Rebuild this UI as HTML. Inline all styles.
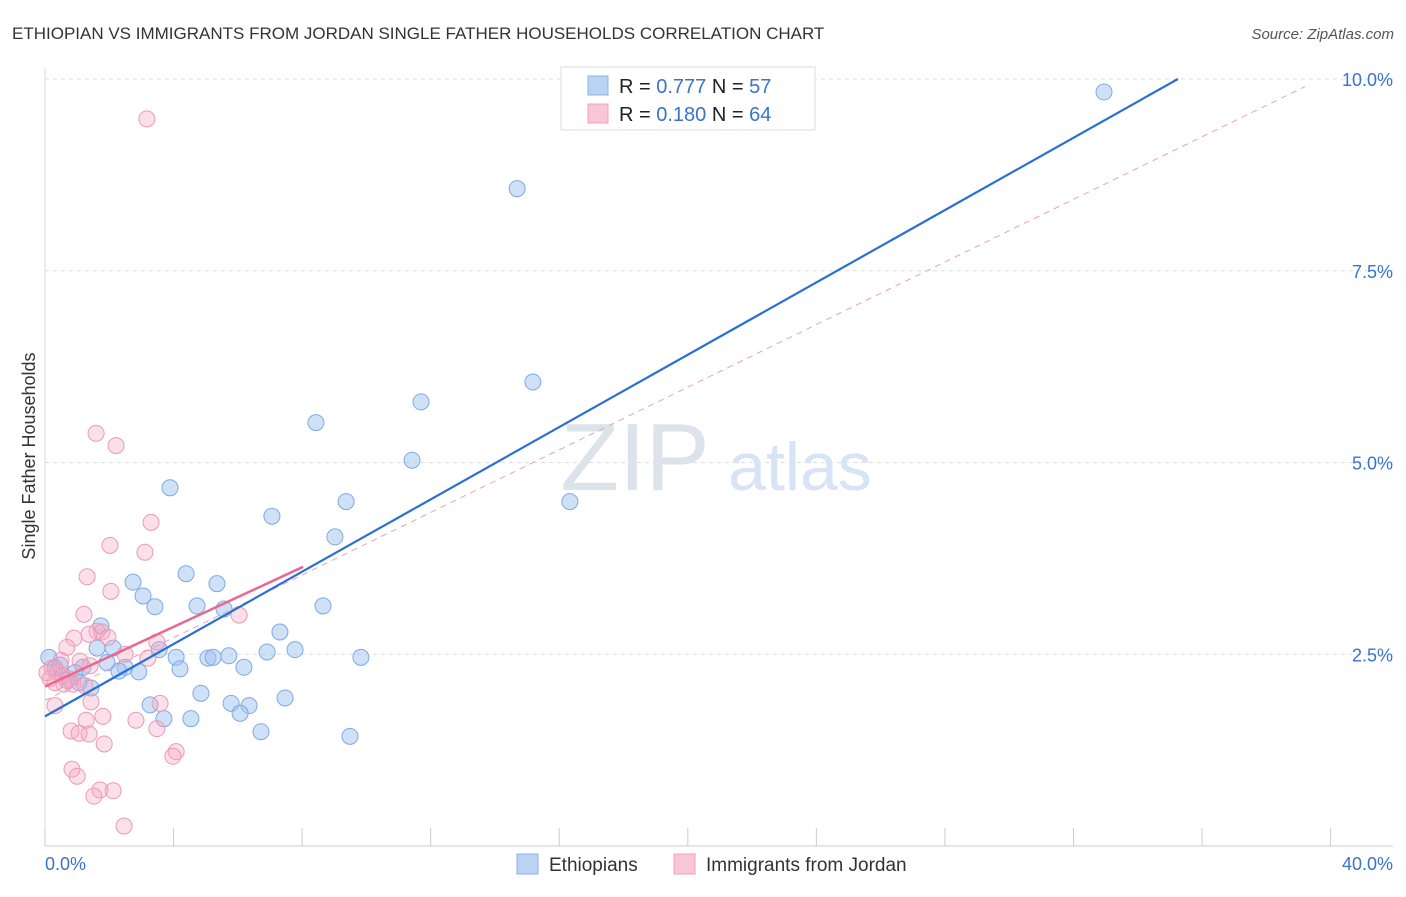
<!DOCTYPE html>
<html><head><meta charset="utf-8"><style>
body{margin:0;background:#fff;font-family:"Liberation Sans",sans-serif}
svg text{font-family:"Liberation Sans",sans-serif}
</style></head><body>
<svg id="chart" width="1406" height="892">
<text x="12" y="39" font-size="17" fill="#333">ETHIOPIAN VS IMMIGRANTS FROM JORDAN SINGLE FATHER HOUSEHOLDS CORRELATION CHART</text>
<text x="1394" y="39" font-size="15" fill="#555" text-anchor="end" font-style="italic">Source: ZipAtlas.com</text>
<text x="35" y="456" font-size="18" fill="#333" text-anchor="middle" transform="rotate(-90 35 456)">Single Father Households</text>
<g id="grid"></g>
<text x="635" y="490" font-size="96" fill="#dde3ea" text-anchor="middle" font-family="Liberation Serif">ZIP</text>
<text x="800" y="490" font-size="68" fill="#d6e4f5" text-anchor="middle">atlas</text>
<g id="marks"></g>
<g>
<rect x="561" y="67" width="254" height="63" fill="#fff" stroke="#ddd"/>
<rect x="588" y="76" width="20" height="19" fill="#b8d3f4" stroke="#8ab4e8"/>
<rect x="588" y="104" width="20" height="19" fill="#f9c6d6" stroke="#f0a0bc"/>
<text x="619" y="93" font-size="20" fill="#222">R = <tspan fill="#3a72d0">0.777</tspan>   N = <tspan fill="#3a72d0">57</tspan></text>
<text x="619" y="121" font-size="20" fill="#222">R = <tspan fill="#3a72d0">0.180</tspan>   N = <tspan fill="#3a72d0">64</tspan></text>
</g>
<g>
<rect x="517" y="854" width="21" height="20" fill="#b8d3f4" stroke="#8ab4e8"/>
<text x="549" y="871" font-size="19" fill="#333">Ethiopians</text>
<rect x="674" y="854" width="21" height="20" fill="#f9c6d6" stroke="#f0a0bc"/>
<text x="706" y="871" font-size="19" fill="#333">Immigrants from Jordan</text>
</g>
</svg>
<script>
const yTicks=[2.5,5.0,7.5,10.0];
const yTickLabels=["2.5%","5.0%","7.5%","10.0%"];
const xTickVals=[0,4,8,12,16,20,24,28,32,36,40];
const xEndLabels=["0.0%","40.0%"];
const ethX=[32.95,14.69,15.18,11.70,8.43,11.42,3.89,9.37,16.33,7.06,9.02,4.39,2.74,5.35,3.05,3.42,4.73,8.65,5.57,1.74,7.31,1.62,2.12,3.55,6.91,7.78,4.08,5.07,5.23,5.72,9.83,1.93,2.49,2.30,2.92,4.20,6.19,1.18,0.12,0.47,0.93,1.06,1.43,4.85,7.47,3.27,5.79,6.35,6.07,4.54,3.70,6.72,9.49,0.31,0.68];
const ethY=[9.83,8.57,6.05,5.79,5.52,5.03,4.67,4.49,4.49,4.30,4.03,3.55,3.44,3.42,3.26,3.12,3.13,3.13,3.09,2.87,2.79,2.58,2.58,2.56,2.53,2.56,2.46,2.45,2.46,2.48,2.46,2.39,2.33,2.28,2.27,2.31,2.33,2.33,2.46,2.36,2.26,2.13,2.06,1.99,1.93,1.84,1.86,1.83,1.73,1.66,1.66,1.49,1.43,2.32,2.16];
const jorX=[3.17,1.59,2.21,3.30,2.02,3.11,1.31,2.05,1.21,6.04,1.62,1.77,1.37,1.96,0.90,3.48,0.68,2.49,3.20,0.50,1.09,1.40,0.22,0.37,0.56,0.75,0.16,0.87,1.24,0.59,0.31,1.43,3.58,1.80,1.28,2.83,3.48,0.81,1.06,1.37,1.84,4.08,3.98,0.84,1.00,1.71,2.12,1.52,2.46,0.31,0.06];
const jorY=[9.48,5.38,5.22,4.22,3.92,3.83,3.51,3.32,3.02,3.01,2.80,2.79,2.76,2.72,2.71,2.66,2.59,2.50,2.45,2.42,2.41,2.35,2.32,2.27,2.22,2.18,2.18,2.11,2.09,2.11,1.83,1.88,1.86,1.69,1.64,1.64,1.53,1.50,1.47,1.46,1.33,1.23,1.17,1.00,0.91,0.73,0.72,0.65,0.26,2.13,2.26];
const ethLine=[[0,1.69],[35.25,10.0]];
const jorLine=[[0,2.08],[8.03,3.64]];
const jorDash=[[0,1.90],[39.2,9.9]];
const sx=v=>45+v*32.14, sy=v=>846-v*76.7;
const NS="http://www.w3.org/2000/svg";
const grid=document.getElementById('grid'), marks=document.getElementById('marks'), svg=document.getElementById('chart');
function mk(tag,attrs,parent){const e=document.createElementNS(NS,tag);for(const k in attrs)e.setAttribute(k,attrs[k]);parent.appendChild(e);return e;}
yTicks.forEach((t,i)=>{
 const l=mk('line',{x1:45,x2:1393,y1:sy(t),y2:sy(t),stroke:'#ddd','stroke-dasharray':'4,4'},grid);
 
 
 const tx=mk('text',{x:1393,y:sy(t)+7,'font-size':18,fill:'#3a72d0','text-anchor':'end'},grid);
 tx.textContent=yTickLabels[i];
 
 
});
const ax=mk('line',{x1:45,x2:1393,y1:846,y2:846,stroke:'#ccc'},grid);


const ay=mk('line',{x1:45,x2:45,y1:68,y2:846,stroke:'#ddd'},grid);


xTickVals.forEach(t=>{
 const l=mk('line',{x1:sx(t),x2:sx(t),y1:828,y2:846,stroke:'#ccc'},grid);
 
 
});
[[0,'start',45],[1,'end',1393]].forEach(([i,a,x])=>{
 const tx=mk('text',{x:x,y:870,'font-size':18,fill:'#3a72d0','text-anchor':a},grid);
 tx.textContent=xEndLabels[i];
 
 
});
function dots(X,Y,fill,stroke,name){X.forEach((x,i)=>{
 const c=mk('circle',{cx:sx(x),cy:sy(Y[i]),r:8,fill:fill,stroke:stroke,'stroke-width':1},marks);
 
 
});}
dots(ethX,ethY,'rgba(160,195,240,0.5)','#7eaae6','ethiopian-point');
dots(jorX,jorY,'rgba(245,165,192,0.35)','#ee98b6','jordan-point');
function line(p,st,w,dash,name){
 const l=mk('line',{x1:sx(p[0][0]),y1:sy(p[0][1]),x2:sx(p[1][0]),y2:sy(p[1][1]),stroke:st,'stroke-width':w},marks);
 if(dash)l.setAttribute('stroke-dasharray',dash);
 
 
}
line(jorDash,'#eaa0b8',1,'6,5','jordan-trend-extension');
line(ethLine,'#2a6fd4',2.2,null,'ethiopian-trend-line');
line(jorLine,'#e8688f',2.5,null,'jordan-trend-line');
</script>
</body></html>
